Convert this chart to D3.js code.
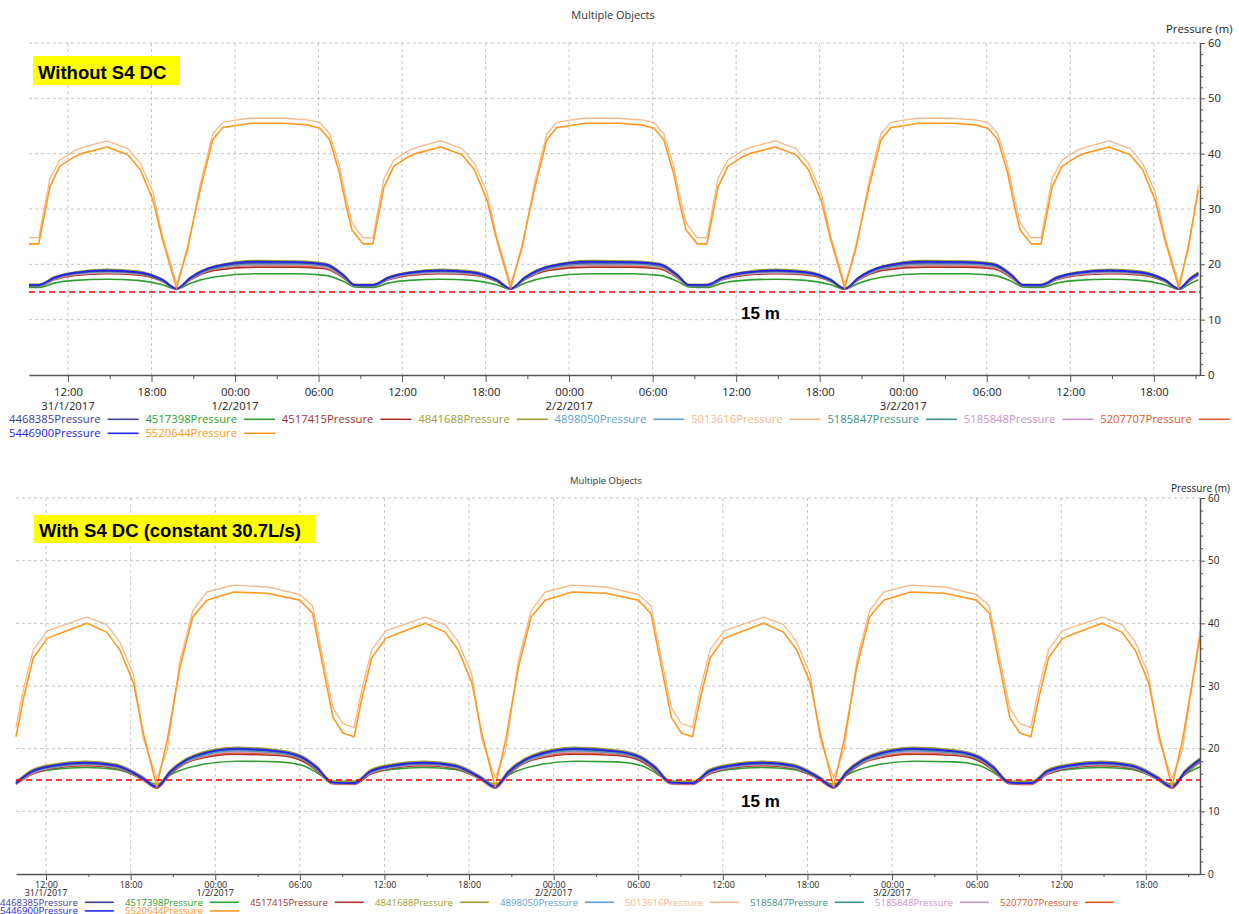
<!DOCTYPE html>
<html><head><meta charset="utf-8">
<script src="https://cdn.jsdelivr.net/npm/d3@7"></script>
<style>
body{margin:0;background:#fff}
svg{display:block}
text{font-family:"Open Sans","Noto Sans",sans-serif}
.bold{font-family:"Liberation Sans",Arial,sans-serif;font-weight:bold}
</style>
</head><body>
<svg id="c" width="1239" height="914"></svg>
<script>
// ---------- shared categories / labels ----------
const seriesNames = ["4468385Pressure","4517398Pressure","4517415Pressure","4841688Pressure","4898050Pressure","5013616Pressure","5185847Pressure","5185848Pressure","5207707Pressure","5446900Pressure","5520644Pressure"];
const seriesColors = ["#40409a","#2f9e2f","#a8302e","#9c9c30","#5b9fd4","#f5b889","#3a9488","#c994c7","#e2582a","#2424ee","#ff981c"];
const drawOrder = ["4517398Pressure","4517415Pressure","5207707Pressure","5185848Pressure","5185847Pressure","4898050Pressure","4841688Pressure","4468385Pressure","5446900Pressure","5013616Pressure","5520644Pressure"];
const highSeries = ["5013616Pressure","5520644Pressure"];
const tickHours = [12,18,24,30,36,42,48,54,60,66,72,78,84,90];
const tickLabels = ["12:00","18:00","00:00","06:00","12:00","18:00","00:00","06:00","12:00","18:00","00:00","06:00","12:00","18:00"];
const dateLabels = ["31/1/2017","","1/2/2017","","","","2/2/2017","","","","3/2/2017","","",""];
const minorHours = [15,21,27,33,39,45,51,57,63,69,75,81,87,93];
const yTicks = [0,10,20,30,40,50,60];
const yMinor = [2,4,6,8,12,14,16,18,22,24,26,28,32,34,36,38,42,44,46,48,52,54,56,58];
const threshold = 15;

// ---------- TOP chart (Without S4 DC) ----------
const topLowT = [9.2,
 9.9,11.0,12.5,14.8,17.0,18.8,19.8,20.8,22.5,25.5,28.5,30.5,31.8,32.6,
 33.9,35.0,36.5,38.8,41.0,42.8,43.8,44.8,46.5,49.5,52.5,54.5,55.8,56.6,
 57.9,59.0,60.5,62.8,65.0,66.8,67.8,68.8,70.5,73.5,76.5,78.5,79.8,80.6,
 81.9,83.0,84.5,86.8,89.0,90.8,91.8,92.6,93.2];
const top4468385 = [16.2,
 16.2,17.5,18.4,18.8,18.5,17.1,15.6,17.5,19.5,20.3,20.3,19.9,17.9,16.2,
 16.2,17.5,18.4,18.8,18.5,17.1,15.6,17.5,19.5,20.3,20.3,19.9,17.9,16.2,
 16.2,17.5,18.4,18.8,18.5,17.1,15.6,17.5,19.5,20.3,20.3,19.9,17.9,16.2,
 16.2,17.5,18.4,18.8,18.5,17.1,15.6,17.3,18.3];
const top4517398 = [15.8,
 15.8,16.6,17.1,17.3,17.1,16.3,15.5,16.6,17.7,18.3,18.3,18.0,16.9,15.9,
 15.8,16.6,17.1,17.3,17.1,16.3,15.5,16.6,17.7,18.3,18.3,18.0,16.9,15.9,
 15.8,16.6,17.1,17.3,17.1,16.3,15.5,16.6,17.7,18.3,18.3,18.0,16.9,15.9,
 15.8,16.6,17.1,17.3,17.1,16.3,15.5,16.5,17.2];
const top4517415 = [16.0,
 16.0,17.2,18.0,18.3,18.1,16.9,15.5,17.2,18.9,19.5,19.5,19.2,17.5,16.1,
 16.0,17.2,18.0,18.3,18.1,16.9,15.5,17.2,18.9,19.5,19.5,19.2,17.5,16.1,
 16.0,17.2,18.0,18.3,18.1,16.9,15.5,17.2,18.9,19.5,19.5,19.2,17.5,16.1,
 16.0,17.2,18.0,18.3,18.1,16.9,15.5,17.0,18.0];
const top4841688 = [16.4,
 16.4,17.7,18.6,19.1,18.8,17.3,15.7,17.7,19.7,20.7,20.6,20.2,18.2,16.4,
 16.4,17.7,18.6,19.1,18.8,17.3,15.7,17.7,19.7,20.7,20.6,20.2,18.2,16.4,
 16.4,17.7,18.6,19.1,18.8,17.3,15.7,17.7,19.7,20.7,20.6,20.2,18.2,16.4,
 16.4,17.7,18.6,19.1,18.8,17.3,15.7,17.5,18.6];
const top4898050 = [16.2,
 16.2,17.5,18.3,18.7,18.4,17.1,15.6,17.5,19.4,20.2,20.2,19.8,17.9,16.2,
 16.2,17.5,18.3,18.7,18.4,17.1,15.6,17.5,19.4,20.2,20.2,19.8,17.9,16.2,
 16.2,17.5,18.3,18.7,18.4,17.1,15.6,17.5,19.4,20.2,20.2,19.8,17.9,16.2,
 16.2,17.5,18.3,18.7,18.4,17.1,15.6,17.3,18.3];
const top5185847 = [16.1,
 16.1,17.4,18.3,18.7,18.4,17.0,15.6,17.4,19.3,20.1,20.1,19.7,17.8,16.2,
 16.1,17.4,18.3,18.7,18.4,17.0,15.6,17.4,19.3,20.1,20.1,19.7,17.8,16.2,
 16.1,17.4,18.3,18.7,18.4,17.0,15.6,17.4,19.3,20.1,20.1,19.7,17.8,16.2,
 16.1,17.4,18.3,18.7,18.4,17.0,15.6,17.2,18.2];
const top5185848 = [16.1,
 16.1,17.3,18.2,18.5,18.3,17.0,15.5,17.3,19.2,19.9,19.9,19.5,17.7,16.1,
 16.1,17.3,18.2,18.5,18.3,17.0,15.5,17.3,19.2,19.9,19.9,19.5,17.7,16.1,
 16.1,17.3,18.2,18.5,18.3,17.0,15.5,17.3,19.2,19.9,19.9,19.5,17.7,16.1,
 16.1,17.3,18.2,18.5,18.3,17.0,15.5,17.1,18.1];
const top5207707 = [16.1,
 16.1,17.3,18.1,18.5,18.2,17.0,15.5,17.3,19.1,19.8,19.7,19.4,17.6,16.2,
 16.1,17.3,18.1,18.5,18.2,17.0,15.5,17.3,19.1,19.8,19.7,19.4,17.6,16.2,
 16.1,17.3,18.1,18.5,18.2,17.0,15.5,17.3,19.1,19.8,19.7,19.4,17.6,16.2,
 16.1,17.3,18.1,18.5,18.2,17.0,15.5,17.1,18.2];
const top5446900 = [16.3,
 16.3,17.6,18.5,18.9,18.6,17.2,15.6,17.6,19.6,20.5,20.4,20.0,18.0,16.3,
 16.3,17.6,18.5,18.9,18.6,17.2,15.6,17.6,19.6,20.5,20.4,20.0,18.0,16.3,
 16.3,17.6,18.5,18.9,18.6,17.2,15.6,17.6,19.6,20.5,20.4,20.0,18.0,16.3,
 16.3,17.6,18.5,18.9,18.6,17.2,15.6,17.4,18.4];

const topHighT = [9.2,
 9.9,10.7,11.4,12.5,13.1,14.8,16.3,17.2,18.1,18.8,19.8,20.6,21.5,22.4,23.1,23.9,25.1,27.5,29.2,30.1,30.8,31.5,32.0,32.4,33.2,
 33.9,34.7,35.4,36.5,37.1,38.8,40.3,41.2,42.1,42.8,43.8,44.6,45.5,46.4,47.1,47.9,49.1,51.5,53.2,54.1,54.8,55.5,56.0,56.4,57.2,
 57.9,58.7,59.4,60.5,61.1,62.8,64.3,65.2,66.1,66.8,67.8,68.6,69.5,70.4,71.1,71.9,73.1,75.5,77.2,78.1,78.8,79.5,80.0,80.4,81.2,
 81.9,82.7,83.4,84.5,85.1,86.8,88.3,89.2,90.1,90.8,91.8,92.5,93.2];
const top5520644 = [23.7,
 23.7,34.0,37.7,39.5,40.1,41.2,39.8,37.1,31.6,24.4,15.7,23.2,33.5,42.5,44.7,45.0,45.5,45.5,45.2,44.6,42.5,36.5,30.4,26.2,23.7,
 23.7,34.0,37.7,39.5,40.1,41.2,39.8,37.1,31.6,24.4,15.7,23.2,33.5,42.5,44.7,45.0,45.5,45.5,45.2,44.6,42.5,36.5,30.4,26.2,23.7,
 23.7,34.0,37.7,39.5,40.1,41.2,39.8,37.1,31.6,24.4,15.7,23.2,33.5,42.5,44.7,45.0,45.5,45.5,45.2,44.6,42.5,36.5,30.4,26.2,23.7,
 23.7,34.0,37.7,39.5,40.1,41.2,39.8,37.1,31.6,24.4,15.7,23.5,33.4];
const top5013616 = [24.8,
 24.8,35.5,38.8,40.6,41.2,42.3,40.9,38.3,33.0,25.0,16.5,22.5,34.5,43.6,45.6,46.0,46.4,46.4,46.1,45.6,43.6,37.8,31.8,27.5,24.8,
 24.8,35.5,38.8,40.6,41.2,42.3,40.9,38.3,33.0,25.0,16.5,22.5,34.5,43.6,45.6,46.0,46.4,46.4,46.1,45.6,43.6,37.8,31.8,27.5,24.8,
 24.8,35.5,38.8,40.6,41.2,42.3,40.9,38.3,33.0,25.0,16.5,22.5,34.5,43.6,45.6,46.0,46.4,46.4,46.1,45.6,43.6,37.8,31.8,27.5,24.8,
 24.8,35.5,38.8,40.6,41.2,42.3,40.9,38.3,33.0,25.0,16.5,22.8,34.3];

// ---------- BOTTOM chart (With S4 DC) ----------
const botLowT = [9.87,11.0,12.5,14.8,17.0,18.8,19.85,20.8,22.5,25.5,28.5,30.2,31.2,32.3,
 33.85,35.0,36.5,38.8,41.0,42.8,43.85,44.8,46.5,49.5,52.5,54.2,55.2,56.3,
 57.85,59.0,60.5,62.8,65.0,66.8,67.85,68.8,70.5,73.5,76.5,78.2,79.2,80.3,
 81.85,83.0,84.5,86.8,89.0,90.8,91.85,92.8,93.84];
const bot4468385 = [
 14.5,16.3,17.2,17.7,17.2,15.3,13.9,16.2,18.7,19.9,19.5,18.5,16.9,14.6,
 14.5,16.3,17.2,17.7,17.2,15.3,13.9,16.2,18.7,19.9,19.5,18.5,16.9,14.6,
 14.5,16.3,17.2,17.7,17.2,15.3,13.9,16.2,18.7,19.9,19.5,18.5,16.9,14.6,
 14.5,16.3,17.2,17.7,17.2,15.3,13.9,16.3,18.2];
const bot4517398 = [
 14.8,16.0,16.7,17.0,16.7,15.3,14.3,15.8,17.2,18.0,17.9,17.3,16.2,14.8,
 14.8,16.0,16.7,17.0,16.7,15.3,14.3,15.8,17.2,18.0,17.9,17.3,16.2,14.8,
 14.8,16.0,16.7,17.0,16.7,15.3,14.3,15.8,17.2,18.0,17.9,17.3,16.2,14.8,
 14.8,16.0,16.7,17.0,16.7,15.3,14.3,15.9,17.1];
const bot4517415 = [
 14.3,15.9,16.9,17.3,16.9,15.1,13.7,15.9,18.2,19.1,18.9,18.0,16.5,14.4,
 14.3,15.9,16.9,17.3,16.9,15.1,13.7,15.9,18.2,19.1,18.9,18.0,16.5,14.4,
 14.3,15.9,16.9,17.3,16.9,15.1,13.7,15.9,18.2,19.1,18.9,18.0,16.5,14.4,
 14.3,15.9,16.9,17.3,16.9,15.1,13.7,16.0,17.8];
const bot4841688 = [
 14.7,16.6,17.5,18.0,17.5,15.6,14.1,16.5,19.0,20.2,19.8,18.8,17.2,14.8,
 14.7,16.6,17.5,18.0,17.5,15.6,14.1,16.5,19.0,20.2,19.8,18.8,17.2,14.8,
 14.7,16.6,17.5,18.0,17.5,15.6,14.1,16.5,19.0,20.2,19.8,18.8,17.2,14.8,
 14.7,16.6,17.5,18.0,17.5,15.6,14.1,16.6,18.5];
const bot4898050 = [
 14.5,16.2,17.1,17.6,17.1,15.3,13.9,16.2,18.6,19.8,19.4,18.4,16.8,14.6,
 14.5,16.2,17.1,17.6,17.1,15.3,13.9,16.2,18.6,19.8,19.4,18.4,16.8,14.6,
 14.5,16.2,17.1,17.6,17.1,15.3,13.9,16.2,18.6,19.8,19.4,18.4,16.8,14.6,
 14.5,16.2,17.1,17.6,17.1,15.3,13.9,16.3,18.1];
const bot5185847 = [
 14.5,16.2,17.1,17.6,17.1,15.3,13.9,16.1,18.5,19.7,19.3,18.3,16.8,14.6,
 14.5,16.2,17.1,17.6,17.1,15.3,13.9,16.1,18.5,19.7,19.3,18.3,16.8,14.6,
 14.5,16.2,17.1,17.6,17.1,15.3,13.9,16.1,18.5,19.7,19.3,18.3,16.8,14.6,
 14.5,16.2,17.1,17.6,17.1,15.3,13.9,16.2,18.0];
const bot5185848 = [
 14.4,16.1,17.0,17.5,17.0,15.2,13.8,16.1,18.4,19.5,19.2,18.3,16.7,14.5,
 14.4,16.1,17.0,17.5,17.0,15.2,13.8,16.1,18.4,19.5,19.2,18.3,16.7,14.5,
 14.4,16.1,17.0,17.5,17.0,15.2,13.8,16.1,18.4,19.5,19.2,18.3,16.7,14.5,
 14.4,16.1,17.0,17.5,17.0,15.2,13.8,16.2,18.0];
const bot5207707 = [
 14.4,16.0,17.0,17.4,17.0,15.2,13.8,16.0,18.3,19.3,19.1,18.2,16.6,14.5,
 14.4,16.0,17.0,17.4,17.0,15.2,13.8,16.0,18.3,19.3,19.1,18.2,16.6,14.5,
 14.4,16.0,17.0,17.4,17.0,15.2,13.8,16.0,18.3,19.3,19.1,18.2,16.6,14.5,
 14.4,16.0,17.0,17.4,17.0,15.2,13.8,16.1,17.9];
const bot5446900 = [
 14.5,16.4,17.3,17.8,17.3,15.4,13.9,16.3,18.8,20.0,19.6,18.6,17.0,14.6,
 14.5,16.4,17.3,17.8,17.3,15.4,13.9,16.3,18.8,20.0,19.6,18.6,17.0,14.6,
 14.5,16.4,17.3,17.8,17.3,15.4,13.9,16.3,18.8,20.0,19.6,18.6,17.0,14.6,
 14.5,16.4,17.3,17.8,17.3,15.4,13.9,16.4,18.3];

const botHighT = [9.87,10.4,11.1,12.1,13.0,14.9,16.3,17.25,18.2,18.9,19.85,20.6,21.5,22.4,23.4,25.3,27.7,30.0,30.9,31.65,32.35,33.06,
 33.85,34.4,35.1,36.1,37.0,38.9,40.3,41.25,42.2,42.9,43.85,44.6,45.5,46.4,47.4,49.3,51.7,54.0,54.9,55.65,56.35,57.06,
 57.85,58.4,59.1,60.1,61.0,62.9,64.3,65.25,66.2,66.9,67.85,68.6,69.5,70.4,71.4,73.3,75.7,78.0,78.9,79.65,80.35,81.06,
 81.85,82.4,83.1,84.1,85.0,86.9,88.3,89.25,90.2,90.9,91.85,92.6,93.84];
const bot5520644 = [
 21.9,28.0,34.5,37.6,38.4,40.0,38.6,35.7,30.5,22.5,13.9,21.4,33.0,41.0,43.7,45.0,44.8,43.7,41.6,33.0,25.0,22.5,
 21.9,28.0,34.5,37.6,38.4,40.0,38.6,35.7,30.5,22.5,13.9,21.4,33.0,41.0,43.7,45.0,44.8,43.7,41.6,33.0,25.0,22.5,
 21.9,28.0,34.5,37.6,38.4,40.0,38.6,35.7,30.5,22.5,13.9,21.4,33.0,41.0,43.7,45.0,44.8,43.7,41.6,33.0,25.0,22.5,
 21.9,28.0,34.5,37.6,38.4,40.0,38.6,35.7,30.5,22.5,13.9,21.4,37.8];
const bot5013616 = [
 23.4,29.5,35.8,38.8,39.5,41.0,39.8,37.0,31.8,21.5,15.3,19.8,34.0,42.0,45.0,46.1,45.8,44.6,42.8,34.3,26.5,24.0,
 23.4,29.5,35.8,38.8,39.5,41.0,39.8,37.0,31.8,21.5,15.3,19.8,34.0,42.0,45.0,46.1,45.8,44.6,42.8,34.3,26.5,24.0,
 23.4,29.5,35.8,38.8,39.5,41.0,39.8,37.0,31.8,21.5,15.3,19.8,34.0,42.0,45.0,46.1,45.8,44.6,42.8,34.3,26.5,24.0,
 23.4,29.5,35.8,38.8,39.5,41.0,39.8,37.0,31.8,21.5,15.3,19.8,38.8];

// ---------- drawing ----------
const svg = d3.select("#c");
const colorOf = d3.scaleOrdinal().domain(seriesNames).range(seriesColors);

function drawChart(c) {
  const g = svg.append("g");
  const x = d3.scaleLinear().domain([c.t0, c.t1]).range([c.xL, c.xR]);
  const y = d3.scaleLinear().domain([0, 60]).range([c.yB, c.yT]);

  // title
  g.append("text").attr("x", c.titleX).attr("y", c.titleY).attr("text-anchor","middle")
    .attr("font-size", c.titleFs).attr("fill","#333").text("Multiple Objects");

  // grids
  g.append("g").selectAll("line").data(yTicks.filter(v => v > 0)).join("line")
    .attr("x1", c.xL).attr("x2", c.xR).attr("y1", d => y(d)).attr("y2", d => y(d))
    .attr("stroke","#c4c4c4").attr("stroke-width",1).attr("stroke-dasharray","3,3");
  g.append("g").selectAll("line").data(tickHours).join("line")
    .attr("x1", d => x(d)).attr("x2", d => x(d)).attr("y1", c.yT).attr("y2", c.yB)
    .attr("stroke","#c4c4c4").attr("stroke-width",1).attr("stroke-dasharray","3,3");

  // series lines
  const lineLin = d3.line().x(d => x(d[0])).y(d => y(d[1]));
  const lineSmooth = d3.line().x(d => x(d[0])).y(d => y(d[1])).curve(d3.curveMonotoneX);
  drawOrder.forEach(name => {
    const s = c.series[name];
    const isHigh = highSeries.includes(name);
    g.append("path").datum(d3.zip(s.t, s.v)).attr("d", isHigh ? lineLin : lineSmooth)
      .attr("fill","none").attr("stroke", colorOf(name))
      .attr("stroke-width", name === "5013616Pressure" ? 1.3 : 1.6)
      .attr("stroke-linejoin","round");
  });

  // threshold
  g.append("line").attr("x1", c.xL).attr("x2", c.xR).attr("y1", y(threshold)).attr("y2", y(threshold))
    .attr("stroke","#ff0000").attr("stroke-width",1.6).attr("stroke-dasharray","6,4");

  // x axis
  const xa = g.append("g").attr("transform", `translate(0,${c.yB})`)
    .call(d3.axisBottom(x).tickValues(tickHours).tickSize(c.majTick).tickSizeOuter(0)
      .tickFormat((d,i) => tickLabels[i]));
  xa.select(".domain").attr("stroke","#555").attr("stroke-width",1.5);
  xa.selectAll(".tick line").attr("stroke","#555");
  xa.selectAll(".tick text").attr("font-size", c.tickFs).attr("fill","#222")
    .attr("font-family",'"Open Sans",sans-serif').attr("y", c.tickDy).attr("dy","0");
  const xm = g.append("g").attr("transform", `translate(0,${c.yB})`)
    .call(d3.axisBottom(x).tickValues(minorHours).tickSize(c.majTick - 3).tickFormat(""));
  xm.select(".domain").remove();
  xm.selectAll(".tick line").attr("stroke","#555");
  g.append("g").selectAll("text").data(tickHours.filter((d,i) => dateLabels[i] !== "")).join("text")
    .attr("x", d => x(d)).attr("y", c.yB + c.dateDy).attr("text-anchor","middle")
    .attr("font-size", c.tickFs).attr("fill","#222")
    .text(d => dateLabels[tickHours.indexOf(d)]);

  // y axis (right)
  const ya = g.append("g").attr("transform", `translate(${c.xR},0)`)
    .call(d3.axisRight(y).tickValues(yTicks).tickSize(5).tickSizeOuter(0).tickPadding(3));
  ya.select(".domain").attr("stroke","#555").attr("stroke-width",1.5);
  ya.selectAll(".tick line").attr("stroke","#555");
  ya.selectAll(".tick text").attr("font-size", c.yFs).attr("fill","#222")
    .attr("font-family",'"Open Sans",sans-serif');
  const ym = g.append("g").attr("transform", `translate(${c.xR},0)`)
    .call(d3.axisRight(y).tickValues(yMinor).tickSize(3).tickFormat(""));
  ym.select(".domain").remove();
  ym.selectAll(".tick line").attr("stroke","#555");
  g.append("text").attr("x", c.yLabX).attr("y", c.yLabY).attr("font-size", c.yFs)
    .attr("fill","#222").text("Pressure (m)");

  // annotations
  g.append("rect").attr("x", c.boxX).attr("y", c.boxY).attr("width", c.boxW).attr("height", c.boxH)
    .attr("fill","#ffff00");
  g.append("text").attr("class","bold").attr("x", c.boxX + 5).attr("y", c.boxY + c.boxH - 6)
    .attr("font-size", 18.5).attr("fill","#000").text(c.boxText);
  g.append("text").attr("class","bold").attr("x", 741).attr("y", c.fifteenY)
    .attr("font-size", 17).attr("fill","#000").text("15 m");

  // legend
  const lg = g.append("g");
  seriesNames.forEach((name, i) => {
    const row = i < 9 ? 0 : 1, col = i < 9 ? i : i - 9;
    const lx = c.legX0 + col * c.legDx, ly = c.legY0 + row * c.legDy;
    const t = lg.append("text").attr("x", lx).attr("y", ly + c.legFs * 0.36)
      .attr("font-size", c.legFs).attr("fill", colorOf(name)).text(name);
    const w = t.node().getComputedTextLength();
    lg.append("line").attr("x1", lx + w + 7).attr("x2", lx + w + 7 + c.legLine)
      .attr("y1", ly).attr("y2", ly).attr("stroke", colorOf(name)).attr("stroke-width", 1.6);
  });
}

function mk(lowT, highT, low, high) {
  const s = {};
  Object.keys(low).forEach(k => s[k] = {t: lowT, v: low[k]});
  Object.keys(high).forEach(k => s[k] = {t: highT, v: high[k]});
  return s;
}

drawChart({
  t0: 9.2, t1: 93.32, xL: 29, xR: 1200, yB: 375, yT: 43,
  titleX: 613, titleY: 19, titleFs: 11,
  tickFs: 11.3, yFs: 11.3, tickDy: 20.5, dateDy: 34.5, majTick: 7,
  yLabX: 1166, yLabY: 33,
  boxX: 33, boxY: 56, boxW: 147, boxH: 29, boxText: "Without S4 DC",
  fifteenY: 319,
  legX0: 9, legDx: 136.4, legY0: 419.3, legDy: 14, legFs: 11.3, legLine: 31,
  series: mk(topLowT, topHighT,
    {"4468385Pressure": top4468385, "4517398Pressure": top4517398, "4517415Pressure": top4517415,
     "4841688Pressure": top4841688, "4898050Pressure": top4898050, "5185847Pressure": top5185847,
     "5185848Pressure": top5185848, "5207707Pressure": top5207707, "5446900Pressure": top5446900},
    {"5013616Pressure": top5013616, "5520644Pressure": top5520644})
});

drawChart({
  t0: 9.87, t1: 93.84, xL: 16, xR: 1200, yB: 874, yT: 498,
  titleX: 606, titleY: 484, titleFs: 9.5,
  tickFs: 9, yFs: 10, tickDy: 13.8, dateDy: 22.4, majTick: 6,
  yLabX: 1171, yLabY: 492,
  boxX: 34, boxY: 515, boxW: 281, boxH: 28, boxText: "With S4 DC (constant 30.7L/s)",
  fifteenY: 807,
  legX0: 0, legDx: 125, legY0: 902.3, legDy: 8.6, legFs: 9.6, legLine: 29,
  series: mk(botLowT, botHighT,
    {"4468385Pressure": bot4468385, "4517398Pressure": bot4517398, "4517415Pressure": bot4517415,
     "4841688Pressure": bot4841688, "4898050Pressure": bot4898050, "5185847Pressure": bot5185847,
     "5185848Pressure": bot5185848, "5207707Pressure": bot5207707, "5446900Pressure": bot5446900},
    {"5013616Pressure": bot5013616, "5520644Pressure": bot5520644})
});
</script>
</body></html>
